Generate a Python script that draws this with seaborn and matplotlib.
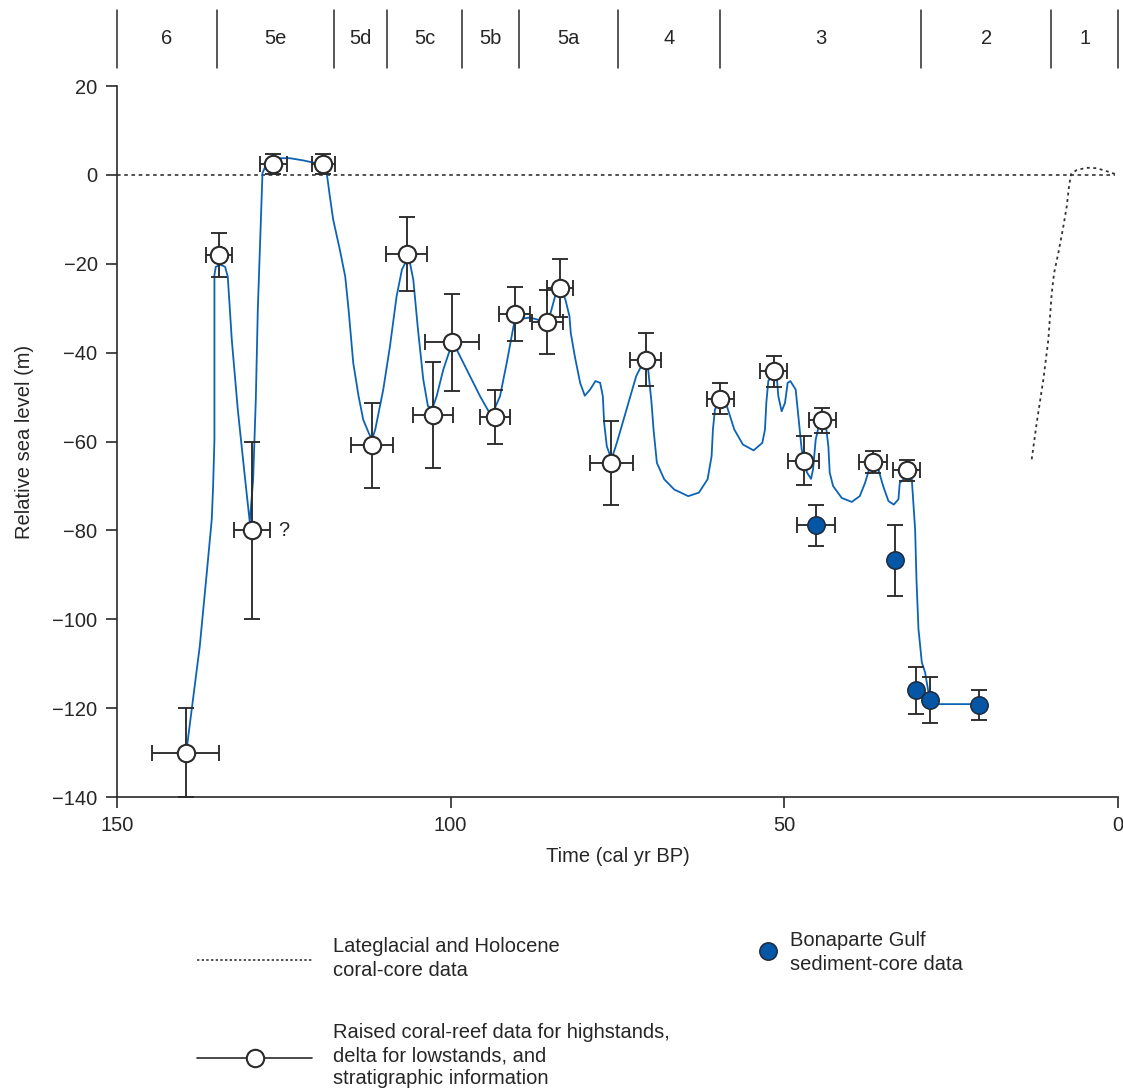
import matplotlib
matplotlib.use("Agg")
import matplotlib.pyplot as plt
import seaborn as sns
import pandas as pd

# marine isotope stage boundaries (ka) and names
stage_bounds = [150, 135, 117.5, 109.5, 98.3, 89.8, 74.9, 59.6, 29.5, 10, 0]
stage_labels = ["6", "5e", "5d", "5c", "5b", "5a", "4", "3", "2", "1"]

# raised coral-reef / delta data (open circles)
reef_age = [139.7, 134.7, 129.8, 126.6, 119.1, 111.8, 106.6, 102.6, 99.8, 93.4, 90.4,
            85.5, 83.6, 75.9, 70.8, 59.6, 51.6, 47.1, 44.3, 36.65, 31.65]
reef_level = [-130, -18, -80, 2.5, 2.5, -60.9, -17.8, -54, -37.7, -54.5, -31.3,
              -33.2, -25.4, -64.9, -41.6, -50.4, -44.2, -64.3, -55.2, -64.6, -66.5]
reef_age_err = [5, 2, 2.7, 2, 1.7, 3.1, 3.1, 3, 4.1, 2.25, 2.3,
                2.3, 1.95, 3.15, 2.3, 2, 2, 2.3, 2, 2.1, 2]
reef_level_err = [10, 5, 20, 2.3, 2.3, 9.5, 8.3, 12, 11, 6, 6,
                  7.2, 6.5, 9.5, 6, 3.5, 3.5, 5.5, 2.8, 2.5, 2.3]

# Bonaparte Gulf sediment-core data (filled circles)
bon_age = [45.25, 33.4, 30.2, 28.2, 20.9]
bon_level = [-78.9, -86.7, -116, -118.1, -119.3]
bon_age_err = [2.9, 0, 0, 0, 0]
bon_level_err = [4.7, 8, 5.3, 5.2, 3.3]

# sea-level curve (blue)
curve_age = [139.5, 137.6, 136.5, 135.8, 135.6, 135.4, 135.4, 135.4, 135.2, 134.5, 133.8,
             133.4, 132.8, 131.9, 130.8, 130.1, 129.6, 129.2, 128.9, 128.5, 128.2, 127.8,
             126.6, 125.6, 124.1, 122.1, 120.6, 119.1, 118.6, 118.1, 117.6, 116.6, 115.8,
             115.3, 114.6, 113.8, 113.1, 112.3, 111.8, 111.3, 110.1, 109.1, 108.1, 107.3,
             106.7, 106.1, 105.6, 104.9, 104.1, 103.4, 102.7, 102.1, 101.1, 100.1, 99.1,
             97.6, 95.6, 93.9, 92.6, 91.6, 90.4, 88.1, 86.7, 85.5, 85.1, 84.3, 83.6, 82.8,
             82.2, 82.0, 81.4, 80.6, 79.9, 79.1, 78.3, 77.6, 77.2, 77.0, 76.6, 75.9, 75.1,
             73.8, 72.2, 71.2, 70.4, 69.9, 69.6, 69.1, 68.0, 66.5, 64.4, 62.8, 61.5, 60.9,
             60.7, 60.4, 59.6, 58.6, 57.5, 56.2, 54.6, 53.3, 52.9, 52.7, 52.4, 51.7, 51.1,
             50.9, 50.4, 49.9, 49.5, 49.1, 48.3, 47.9, 47.4, 46.6, 46.0, 45.7, 45.3, 44.9,
             44.3, 43.7, 43.4, 43.2, 42.7, 41.4, 39.9, 38.7, 37.9, 37.3, 36.7, 35.9, 35.2,
             34.4, 33.6, 32.9, 32.7, 31.9, 30.9, 30.4, 30.2, 29.9, 29.4, 28.9, 28.4, 27.2,
             21.9, 20.9]
curve_level = [-128.5, -106.1, -88.8, -77.5, -70.1, -59.6, -34.8, -22.5, -20.7, -20.2, -20.7,
               -22.9, -37.1, -52.8, -68.5, -78.2, -68.5, -50.6, -30.3, -12.4, 0.4, 1.8,
               2.7, 3.75, 3.75, 3.26, 2.76, 2.47, 0.74, -4.9, -10.1, -16.9, -22.9,
               -30.3, -42.3, -49.8, -55.1, -58.0, -59.6, -57.3, -48.3, -38.6, -27.3, -21.3,
               -19.5, -19.8, -23.6, -34.8, -46.1, -52.1, -52.4, -49.8, -43.8, -39.3, -39.3,
               -43.8, -49.8, -54.3, -49.8, -42.3, -32.6, -32.1, -32.7, -33.2, -31.5, -27.0, -25.4, -28.1,
               -31.8, -35.6, -40.8, -46.8, -49.7, -48.3, -46.4, -46.8, -49.8, -55.8, -61.1, -64.0, -60.3,
               -53.6, -45.3, -42.3, -43.8, -51.3, -57.3, -64.8, -68.5, -70.8, -72.3, -71.5, -68.5, -63.3,
               -57.3, -52.8, -50.6, -52.1, -57.3, -60.7, -62.0, -60.3, -57.3, -51.3, -46.4, -44.6, -46.1,
               -49.8, -53.2, -51.3, -46.8, -46.4, -48.3, -54.3, -61.8, -67.0, -68.4, -66.3, -59.6, -56.9,
               -55.2, -57.3, -61.1, -67.0, -70.0, -72.7, -73.6, -72.3, -69.3, -66.3, -64.4, -66.3, -70.0,
               -73.4, -74.2, -73.0, -69.3, -68.2, -68.5, -79.8, -91.0, -102.2, -109.7, -112.0, -116.5, -119.1,
               -119.1, -119.3]

# Lateglacial and Holocene coral-core curve (dotted)
holo_age = [12.93, 12.18, 11.19, 10.44, 9.93, 9.58, 8.94, 8.19, 7.68, 7.34, 7.04,
            6.18, 4.68, 3.18, 1.44, 0.45]
holo_level = [-64.0, -55.8, -46.1, -37.1, -26.6, -22.1, -17.6, -11.6, -7.1, -2.6, 0.2,
              1.1, 1.6, 1.5, 0.7, 0.2]

BLUE = "#0c63b6"
FILL = "#0557a6"
INK = "#2a2a2a"
FS = 14.5

sns.set_theme(style="ticks")
plt.rcParams['font.family'] = ['Liberation Sans', 'DejaVu Sans']
plt.rcParams['font.size'] = FS

W, H = 1123, 1089
fig = plt.figure(figsize=(W / 100, H / 100), dpi=100)
ax = fig.add_axes([117 / W, 1 - 797 / H, 1001 / W, 711 / H])

# zero line
zero = pd.DataFrame({"age": [150, 0.4], "level": [0, 0]})
sns.lineplot(data=zero, x="age", y="level", ax=ax, color="#444444", lw=1.3,
             linestyle=(0, (2.0, 2.0)), estimator=None, sort=False)

holo = pd.DataFrame({"age": holo_age, "level": holo_level})
sns.lineplot(data=holo, x="age", y="level", ax=ax, color="#333333", lw=1.3,
             linestyle=(0, (1.6, 2.0)), estimator=None, sort=False)

curve = pd.DataFrame({"age": curve_age, "level": curve_level})
sns.lineplot(data=curve, x="age", y="level", ax=ax, color=BLUE, lw=1.3,
             estimator=None, sort=False, zorder=2,
             solid_joinstyle="round", solid_capstyle="round")

ax.errorbar(reef_age, reef_level, xerr=reef_age_err, yerr=reef_level_err, fmt="none",
            ecolor=INK, elinewidth=1.35, capsize=6, capthick=1.35, zorder=3, clip_on=False)
ax.errorbar(bon_age, bon_level, xerr=bon_age_err, yerr=bon_level_err, fmt="none",
            ecolor=INK, elinewidth=1.35, capsize=6, capthick=1.35, zorder=3, clip_on=False)

ax.plot(reef_age, reef_level, "o", ms=12.5, mfc="white", mec=INK, mew=1.5, zorder=4, clip_on=False)
ax.plot(bon_age, bon_level, "o", ms=12.5, mfc=FILL, mec="#1f2a3a", mew=1.1, zorder=4, clip_on=False)

ax.text(reef_age[2] - 4.0, reef_level[2], "?", ha="left", va="center", fontsize=FS)

ax.set_xlim(150, 0)
ax.set_ylim(-140, 20)
ax.set_xticks([150, 100, 50, 0])
ax.set_yticks(range(-140, 21, 20))
ax.tick_params(direction="out", length=8, width=1.2, color=INK, labelsize=FS, pad=6)
for s in ["top", "right"]:
    ax.spines[s].set_visible(False)
for s in ["left", "bottom"]:
    ax.spines[s].set_linewidth(1.2)
    ax.spines[s].set_color(INK)
ax.set_xlabel("Time (cal yr BP)", fontsize=FS)
ax.set_ylabel("Relative sea level (m)", fontsize=FS)
ax.xaxis.set_label_coords(0.5, -0.07)
ax.yaxis.set_label_coords(-0.083, 0.5)

# isotope stage strip
st = fig.add_axes([117 / W, 1 - 68 / H, 1001 / W, 58 / H])
st.set_xlim(150, 0)
st.set_ylim(0, 1)
st.axis("off")
for b in stage_bounds:
    st.plot([b, b], [0, 1], color=INK, lw=1.1, clip_on=False)
for i, lab in enumerate(stage_labels):
    st.text((stage_bounds[i] + stage_bounds[i + 1]) / 2, 0.5, lab,
            ha="center", va="center", fontsize=FS)

# legend drawn in figure pixel space
lg = fig.add_axes([0, 0, 1, 1], facecolor="none")
lg.set_xlim(0, W)
lg.set_ylim(H, 0)
lg.axis("off")
lg.plot([197, 312], [960, 960], color="#333333", lw=1.2, linestyle=(0, (1.4, 1.4)))
lg.text(333, 947, "Lateglacial and Holocene", ha="left", va="center", fontsize=FS)
lg.text(333, 970, "coral-core data", ha="left", va="center", fontsize=FS)
lg.plot([197, 312], [1058, 1058], color=INK, lw=1.2)
lg.plot([255], [1058], "o", ms=12.5, mfc="white", mec=INK, mew=1.5)
lg.text(333, 1033, "Raised coral-reef data for highstands,", ha="left", va="center", fontsize=FS)
lg.text(333, 1056, "delta for lowstands, and", ha="left", va="center", fontsize=FS)
lg.text(333, 1078, "stratigraphic information", ha="left", va="center", fontsize=FS)
lg.plot([768], [951], "o", ms=12.5, mfc=FILL, mec="#1f2a3a", mew=1.1)
lg.text(790, 941, "Bonaparte Gulf", ha="left", va="center", fontsize=FS)
lg.text(790, 964, "sediment-core data", ha="left", va="center", fontsize=FS)

fig.savefig("out.png", dpi=100)
